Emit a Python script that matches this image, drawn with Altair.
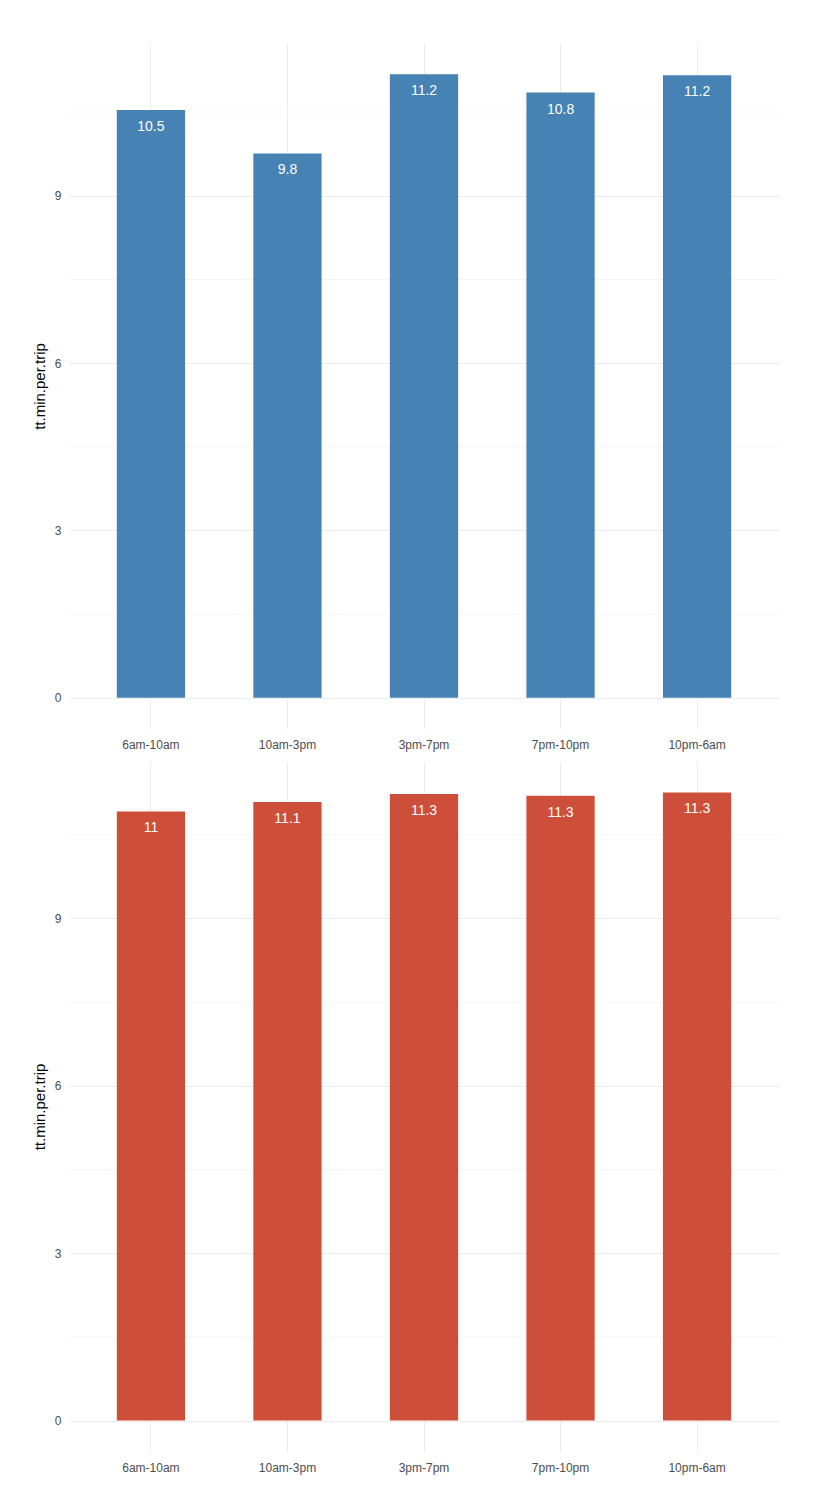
import altair as alt
import pandas as pd

periods = ["6am-10am", "10am-3pm", "3pm-7pm", "7pm-10pm", "10pm-6am"]

top_values = [10.54, 9.76, 11.18, 10.85, 11.16]
top_labels = ["10.5", "9.8", "11.2", "10.8", "11.2"]

bottom_values = [10.92, 11.09, 11.23, 11.2, 11.26]
bottom_labels = ["11", "11.1", "11.3", "11.3", "11.3"]

major_breaks = [0, 3, 6, 9]
minor_breaks = [1.5, 4.5, 7.5, 10.5]

FONT = "Liberation Sans"
GRID = "#ebebeb"


def panel(values, labels, color, height):
    df = pd.DataFrame({"period": periods, "value": values, "label": labels})
    vmax = max(values)
    yscale = alt.Scale(domain=[-0.05 * vmax, 1.05 * vmax], nice=False, zero=False)
    xaxis = alt.Axis(
        title=None, labelAngle=0, grid=True, bandPosition=0.5,
        ticks=True, tickSize=0, domain=False, labelPadding=10,
        labelFontSize=12, labelColor="#4d4d4d", labelFont=FONT,
        gridColor=GRID, gridWidth=1,
    )
    xscale = alt.Scale(paddingInner=0.5, paddingOuter=0.35)
    yaxis = alt.Axis(
        values=major_breaks, title="tt.min.per.trip", titleFontSize=15,
        titleColor="black", titleFontWeight="normal", titleFont=FONT,
        titlePadding=7, labelPadding=8, ticks=True, tickSize=0, domain=False,
        gridColor=GRID, gridWidth=1, labelFontSize=12, labelColor="#4d4d4d",
        labelFont=FONT,
    )
    minor = alt.Chart(pd.DataFrame({"m": minor_breaks})).mark_rule(
        color="#f0f0f0", strokeWidth=0.7
    ).encode(y=alt.Y("m:Q", scale=yscale, axis=yaxis))
    bars = alt.Chart(df).mark_bar(color=color).encode(
        x=alt.X("period:N", sort=periods, scale=xscale, axis=xaxis),
        y=alt.Y("value:Q", scale=yscale, axis=yaxis),
        y2=alt.datum(0),
    )
    text = alt.Chart(df).mark_text(
        baseline="alphabetic", dy=21, color="white", fontSize=14, font=FONT
    ).encode(
        x=alt.X("period:N", sort=periods, scale=xscale, axis=xaxis),
        y=alt.Y("value:Q", scale=yscale, axis=yaxis),
        text="label:N",
    )
    return alt.layer(minor, bars, text).properties(width=710, height=height)


top = panel(top_values, top_labels, "#4682b4", 686)
bottom = panel(bottom_values, bottom_labels, "#cd4f39", 691)

chart = alt.vconcat(top, bottom, spacing=11).properties(
    padding={"left": 24, "top": 35, "right": 10, "bottom": 10}
).configure(
    font=FONT, background="white"
).configure_view(strokeWidth=0, stroke="transparent")

chart.save("out.html", embed_options={"renderer": "svg", "actions": False})
